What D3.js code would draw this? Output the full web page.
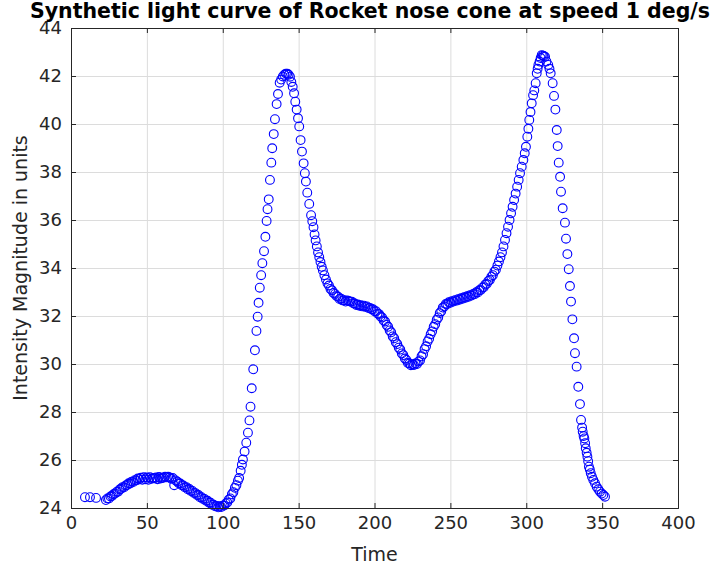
<!DOCTYPE html>
<html><head><meta charset="utf-8">
<script src="https://cdn.jsdelivr.net/npm/d3@7"></script>
<style>
html,body{margin:0;padding:0;background:#fff;}
svg text{font-family:"DejaVu Sans",sans-serif;}
</style></head>
<body><svg id="c" width="724" height="569"></svg>
<script>
const titleText = "Synthetic light curve of Rocket nose cone at speed 1 deg/s";
const xLabel = "Time";
const yLabel = "Intensity Magnitude in units";
const xTicks = [0,50,100,150,200,250,300,350,400];
const yTicks = [24,26,28,30,32,34,36,38,40,42,44];

const time = [9.2,12.5,16.5,
23,24,25,26,27,28,29,30,31,32,33,34,35,36,37,38,39,40,41,42,43,44,45,46,47,48,49,50,
51,52,53,54,55,56,57,58,59,60,61,62,63,64,65,66,67,68,69,70,71,72,73,74,75,76,77,78,79,80,
81,82,83,84,85,86,87,88,89,90,91,92,93,94,95,96,97,98,99,100,101,102,103,104,105,106,107,108,109,110,
110.8,111.8,112.6,113.3,114.4,115.5,116.6,117.6,118.3,119.1,120.1,121.2,122.2,123,123.6,124.4,125.3,126.1,
127.2,128.1,128.9,129.5,130.3,131.1,132,132.6,133.6,134.4,135.5,136.4,137.5,138.5,139.6,140.6,141.6,142.5,
143.4,144.3,145.2,146.1,147,147.8,148.7,149.6,150.4,151.3,152.2,153.3,154.1,154.8,155.7,157,158.2,159,159.8,
160.5,161.2,162,162.8,163.6,164.4,165.2,166,167,168,169,170,171,172,173,174,175,176,177,178,179,180,
181,182,183,184,185,186,187,188,189,190,191,192,193,194,195,196,197,198,199,200,201,202,203,204,205,
206,207,208,209,210,211,212,213,214,215,216,217,218,219,220,221,222,223,224,225,226,227,228,229,230,
231,232,233,234,235,236,237,238,239,240,241,242,243,244,245,246,247,248,249,250,251,252,253,254,255,
256,257,258,259,260,261,262,263,264,265,266,267,268,269,270,271,272,273,274,275,276,277,278,279,280,
281,282,283,284,285,286,287,288,289,290,291,292,293,294,295,295.9,297,298.1,299,299.8,300.7,301.4,302,
302.8,303.6,304.5,305.3,306.2,306.9,307.5,308,308.8,309.5,310.2,311,311.6,312.4,313.3,314.5,315.3,316.1,
317.4,318.3,319.2,320.1,320.7,321.4,322.3,322.9,324,325.5,326.2,327.1,328,328.8,329.5,330.4,331.5,332.1,
333.2,334.3,335.4,336.1,336.8,337.2,337.8,338.3,338.8,339.2,339.8,340.3,340.8,341.3,341.9,342.5,343.3,
344.2,345.3,346.4,347.5,348.6,349.7,350.8,351.9];

const intensity = [24.45,24.45,24.42,
24.33,24.4,24.4,24.48,24.5,24.57,24.6,24.67,24.68,24.77,24.8,24.87,24.86,24.94,24.96,25.03,25.02,25.1,25.08,25.16,25.15,25.23,25.2,25.26,25.18,25.28,25.2,25.27,
25.18,25.28,25.22,25.24,25.24,25.27,25.2,25.29,25.23,25.26,25.26,25.3,25.28,25.3,25.27,25.22,25.25,24.95,25.15,25.1,25.03,25.02,24.95,24.94,24.86,24.87,24.78,24.79,24.71,24.71,
24.63,24.62,24.54,24.54,24.45,24.45,24.38,24.38,24.3,24.3,24.22,24.22,24.14,24.14,24.07,24.09,24.03,24.07,24.04,24.1,24.1,24.19,24.23,24.35,24.4,24.57,24.66,24.84,24.95,25.14,
25.25,25.55,25.8,26.02,26.35,26.72,27.14,27.65,28.22,28.99,29.78,30.57,31.38,31.97,32.55,33.18,33.7,34.2,
34.7,35.3,35.96,36.45,36.86,37.67,38.39,38.99,39.58,40.2,40.83,41.25,41.72,41.85,41.98,42.05,42.1,42.1,
42.05,41.97,41.75,41.55,41.28,40.93,40.6,40.24,39.9,39.33,38.85,38.36,37.95,37.6,37.14,36.67,36.2,35.95,35.7,
35.4,35.15,34.9,34.65,34.45,34.25,34.05,33.9,33.7,33.52,33.36,33.27,33.13,33.07,32.96,32.92,32.83,32.8,32.71,32.72,32.65,32.66,
32.6,32.65,32.63,32.6,32.6,32.53,32.52,32.46,32.48,32.43,32.45,32.4,32.43,32.38,32.4,32.33,32.34,32.28,32.28,32.2,32.2,32.1,32.08,31.98,31.94,
31.81,31.77,31.63,31.55,31.4,31.32,31.15,31.07,30.91,30.83,30.68,30.6,30.44,30.37,30.23,30.17,30.04,30.02,29.95,29.99,29.96,30.02,30.0,30.1,30.15,
30.32,30.41,30.62,30.74,30.94,31.05,31.24,31.36,31.55,31.66,31.84,31.94,32.12,32.2,32.35,32.4,32.5,32.5,32.57,32.55,32.62,32.6,32.66,32.64,32.7,
32.68,32.74,32.72,32.78,32.76,32.82,32.8,32.87,32.85,32.92,32.91,32.99,32.98,33.07,33.08,33.18,33.2,33.31,33.34,33.46,33.5,33.64,33.7,33.85,33.93,
34.1,34.27,34.45,34.65,34.9,35.17,35.45,35.72,36.0,36.28,36.55,36.83,37.1,37.39,37.67,37.95,38.22,38.5,38.78,39.05,39.47,39.8,40.17,
40.5,40.86,41.2,41.4,41.7,42.11,42.3,42.46,42.6,42.75,42.87,42.85,42.82,42.8,42.6,42.46,42.3,42.11,
41.7,41.17,40.6,39.75,39.08,38.39,37.8,37.18,36.49,35.89,35.22,34.58,33.95,33.25,32.6,31.86,31.07,30.45,
29.89,29.05,28.33,27.67,27.35,27.18,27.0,26.9,26.7,26.49,26.3,26.14,25.95,25.72,25.6,25.45,25.3,
25.17,25.03,24.89,24.78,24.68,24.6,24.54,24.47];

const svg = d3.select("#c");
const m = {l:71, r:678, t:28, b:508};
const x = d3.scaleLinear().domain([0,400]).range([m.l,m.r]);
const y = d3.scaleLinear().domain([24,44]).range([m.b,m.t]);
const axisColor = "#262626";

// grid
const g = svg.append("g");
g.selectAll(".gx").data(xTicks).join("line")
  .attr("x1",d=>x(d)+0.5).attr("x2",d=>x(d)+0.5).attr("y1",m.t).attr("y2",m.b)
  .attr("stroke","#dcdcdc").attr("stroke-width",1);
g.selectAll(".gy").data(yTicks).join("line")
  .attr("y1",d=>Math.round(y(d))+0.5).attr("y2",d=>Math.round(y(d))+0.5).attr("x1",m.l).attr("x2",m.r)
  .attr("stroke","#dcdcdc").attr("stroke-width",1);

// points
const pts = time.map((t,i)=>[t,intensity[i]]);
svg.append("g").selectAll("circle").data(pts).join("circle")
  .attr("cx",d=>x(d[0])).attr("cy",d=>y(d[1])).attr("r",4.4)
  .attr("fill","none").attr("stroke","#0000ff").attr("stroke-width",1.1);

// axes
const tl = 5;
const xa = d3.axisBottom(x).tickValues(xTicks).tickSize(-tl).tickPadding(8).tickFormat(d3.format("d"));
const xt = d3.axisTop(x).tickValues(xTicks).tickSize(-tl).tickFormat("");
const ya = d3.axisLeft(y).tickValues(yTicks).tickSize(-tl).tickPadding(9).tickFormat(d3.format("d"));
const yr = d3.axisRight(y).tickValues(yTicks).tickSize(-tl).tickFormat("");
function style(sel){
  sel.select(".domain").attr("stroke",axisColor);
  sel.selectAll(".tick line").attr("stroke",axisColor);
  sel.selectAll(".tick text").attr("fill",axisColor).style("font-size","18px").style("font-family","DejaVu Sans");
}
svg.append("g").attr("transform",`translate(0,${m.b})`).call(xa).call(style);
svg.append("g").attr("transform",`translate(0,${m.t})`).call(xt).call(style);
svg.append("g").attr("transform",`translate(${m.l},0)`).call(ya).call(style);
svg.append("g").attr("transform",`translate(${m.r},0)`).call(yr).call(style);

// labels
svg.append("text").attr("x",(m.l+m.r)/2).attr("y",561).attr("text-anchor","middle")
  .attr("fill",axisColor).style("font-size","19px").text(xLabel);
svg.append("text").attr("transform",`translate(27,${(m.t+m.b)/2}) rotate(-90)`).attr("text-anchor","middle")
  .attr("fill",axisColor).style("font-size","19px").text(yLabel);
svg.append("text").attr("x",370).attr("y",18).attr("text-anchor","middle")
  .attr("fill","#000").style("font-size","20.5px").style("font-weight","bold").text(titleText);
</script></body></html>
